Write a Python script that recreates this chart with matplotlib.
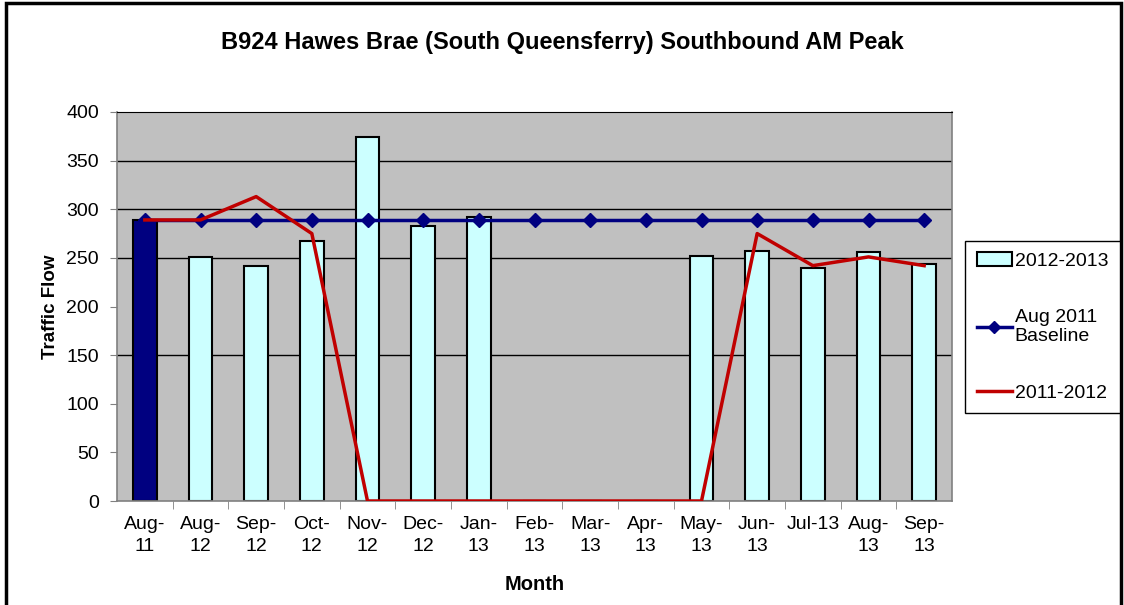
import matplotlib
matplotlib.use("Agg")
import matplotlib.pyplot as plt
from matplotlib.patches import Patch, Rectangle
from matplotlib.lines import Line2D

plt.rcParams['font.family'] = ['Liberation Sans', 'DejaVu Sans']

# data
months = ["Aug-\n11", "Aug-\n12", "Sep-\n12", "Oct-\n12", "Nov-\n12", "Dec-\n12", "Jan-\n13",
          "Feb-\n13", "Mar-\n13", "Apr-\n13", "May-\n13", "Jun-\n13", "Jul-13", "Aug-\n13", "Sep-\n13"]
flow_2012_2013 = [289, 251, 242, 267, 374, 283, 292, 0, 0, 0, 252, 257, 240, 256, 244]
baseline_aug2011 = [289] * 15
flow_2011_2012 = [289, 289, 313, 275, 0, 0, 0, 0, 0, 0, 0, 275, 242, 251, 242]

navy = "#000080"
cyan = "#CCFFFF"
red = "#C00000"

fig = plt.figure(figsize=(11.24, 6.05), dpi=100)
ax = fig.add_axes([117 / 1124, 1 - 501 / 605, 835 / 1124, 389 / 605])
ax.set_facecolor("#C0C0C0")

x = list(range(len(months)))
bar_colors = [navy] + [cyan] * (len(months) - 1)
ax.bar(x, flow_2012_2013, width=0.42, color=bar_colors, edgecolor="black", linewidth=1.5, zorder=2)

ax.plot(x, baseline_aug2011, color=navy, linewidth=2.5, marker="D", markersize=7, zorder=3)
ax.plot(x, flow_2011_2012, color=red, linewidth=2.5, zorder=4)

# gridlines (as they show in the picture)
for g in [150, 250, 300, 350]:
    ax.axhline(g, color="black", linewidth=1, zorder=1)

ax.set_xlim(-0.5, len(months) - 0.5)
ax.set_ylim(0, 400)
ax.set_yticks([0, 50, 100, 150, 200, 250, 300, 350, 400])
ax.set_xticks(x)
ax.set_xticklabels(months, fontsize=14, linespacing=1.4)
ax.tick_params(axis="x", length=0, pad=11)
ax.set_xticks([i + 0.5 for i in x[:-1]], minor=True)
ax.tick_params(axis="x", which="minor", length=6, color="#808080", direction="out")
ax.tick_params(axis="y", labelsize=14, length=5, color="#808080", direction="out", pad=8)

for s in ["left", "bottom", "right"]:
    ax.spines[s].set_color("#808080")
    ax.spines[s].set_linewidth(1.2)
ax.spines["top"].set_color("black")

ax.set_ylabel("Traffic Flow", fontsize=13.5, fontweight="bold", labelpad=5)
ax.set_xlabel("Month", fontsize=14.5, fontweight="bold", labelpad=14)
fig.text(0.5, 1 - 42 / 605, "B924 Hawes Brae (South Queensferry) Southbound AM Peak",
         ha="center", va="center", fontsize=17, fontweight="bold")

handles = [
    Patch(facecolor=cyan, edgecolor="black", linewidth=1.5),
    Line2D([0], [0], color=navy, linewidth=2.5, marker="D", markersize=6),
    Line2D([0], [0], color=red, linewidth=2.5),
]
labels = ["2012-2013", "Aug 2011\nBaseline", "2011-2012"]
leg = fig.legend(handles, labels, loc="center left",
                 bbox_to_anchor=(965 / 1124, 1 - 327 / 605), fontsize=14,
                 frameon=True, fancybox=False, edgecolor="black", framealpha=1,
                 labelspacing=2.0, handlelength=1.8, handletextpad=0.15,
                 borderpad=0.6, borderaxespad=0)
leg.get_frame().set_linewidth(1)

# outer chart border
fig.patches.append(Rectangle((6 / 1124, -0.02), 1115 / 1124, 1.015, transform=fig.transFigure,
                             fill=False, edgecolor="black", linewidth=2.5))

fig.savefig("out.png", dpi=100)
